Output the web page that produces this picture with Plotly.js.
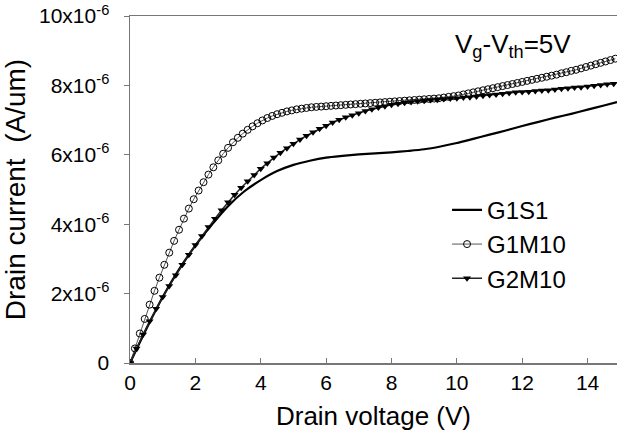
<!DOCTYPE html>
<html>
<head>
<meta charset="utf-8">
<script src="https://cdn.plot.ly/plotly-3.0.1.min.js"></script>
<style>html,body{margin:0;padding:0;background:#fff;}#chart{width:617px;height:438px;}</style>
</head>
<body>
<div id="chart"></div>
<script>
// Drain current in units of 1e-6 A/um
const seriesNames = ["G1S1", "G1M10", "G2M10"];

const xG1S1 = [0,0.5,1,1.5,2,2.5,3,3.5,4,4.5,5,5.5,6,6.5,7,7.5,8,8.5,9,9.5,10,10.5,11,11.5,12,12.5,13,13.5,14,14.5,14.9];
const yG1S1 = [0,0.98,1.9,2.7,3.38,3.98,4.52,4.95,5.27,5.53,5.71,5.83,5.92,5.97,6.01,6.04,6.07,6.11,6.16,6.24,6.34,6.46,6.58,6.7,6.83,6.95,7.07,7.18,7.3,7.42,7.52];

const xG1M10 = [0,0.15,0.3,0.45,0.6,0.75,0.9,1.05,1.2,1.35,1.5,1.65,1.8,1.95,2.1,2.25,2.4,2.55,2.7,2.85,
  3,3.15,3.3,3.45,3.6,3.75,3.9,4.05,4.2,4.35,4.5,4.65,4.8,4.95,5.1,5.25,5.4,5.55,5.7,5.85,
  6,6.15,6.3,6.45,6.6,6.75,6.9,7.05,7.2,7.35,7.5,7.65,7.8,7.95,8.1,8.25,8.4,8.55,8.7,8.85,
  9,9.15,9.3,9.45,9.6,9.75,9.9,10.05,10.2,10.35,10.5,10.65,10.8,10.95,11.1,11.25,11.4,11.55,11.7,11.85,
  12,12.15,12.3,12.45,12.6,12.75,12.9,13.05,13.2,13.35,13.5,13.65,13.8,13.95,14.1,14.25,14.4,14.55,14.7,14.85];
const yG1M10 = [0,0.42,0.85,1.27,1.68,2.08,2.46,2.83,3.18,3.52,3.84,4.16,4.45,4.72,4.97,5.21,5.43,5.64,5.84,6.03,
  6.2,6.36,6.49,6.61,6.72,6.82,6.91,6.99,7.06,7.12,7.17,7.21,7.25,7.28,7.31,7.33,7.35,7.37,7.38,7.39,
  7.4,7.41,7.42,7.43,7.44,7.45,7.46,7.47,7.48,7.49,7.5,7.51,7.52,7.53,7.54,7.55,7.56,7.57,7.58,7.59,
  7.6,7.61,7.62,7.63,7.65,7.67,7.69,7.71,7.74,7.77,7.8,7.83,7.86,7.89,7.92,7.95,7.98,8.01,8.04,8.07,
  8.1,8.13,8.16,8.19,8.22,8.25,8.28,8.31,8.35,8.38,8.42,8.45,8.49,8.53,8.57,8.61,8.65,8.69,8.73,8.77];

const xG2M10 = [0,0.2,0.4,0.6,0.8,1,1.2,1.4,1.6,1.8,2,2.2,2.4,2.6,2.8,3,3.2,3.4,3.6,3.8,
  4,4.2,4.4,4.6,4.8,5,5.2,5.4,5.6,5.8,6,6.2,6.4,6.6,6.8,7,7.2,7.4,7.6,7.8,
  8,8.2,8.4,8.6,8.8,9,9.2,9.4,9.6,9.8,10,10.2,10.4,10.6,10.8,11,11.2,11.4,11.6,11.8,
  12,12.2,12.4,12.6,12.8,13,13.2,13.4,13.6,13.8,14,14.2,14.4,14.6,14.8];
const yG2M10 = [0,0.42,0.82,1.2,1.56,1.9,2.22,2.53,2.83,3.12,3.4,3.66,3.92,4.16,4.4,4.63,4.85,5.05,5.24,5.42,
  5.6,5.76,5.92,6.06,6.19,6.32,6.44,6.55,6.65,6.75,6.84,6.93,7.01,7.08,7.14,7.2,7.26,7.31,7.36,7.4,
  7.44,7.47,7.5,7.52,7.54,7.56,7.58,7.59,7.61,7.62,7.63,7.65,7.66,7.68,7.7,7.72,7.74,7.76,7.78,7.8,
  7.81,7.82,7.84,7.85,7.86,7.88,7.9,7.92,7.94,7.95,7.97,7.99,8.01,8.03,8.05];

const xTickVals = [0,2,4,6,8,10,12,14];
const yTickVals = [0,2,4,6,8,10];
const yTickText = ["0","2x10<sup>-6</sup>","4x10<sup>-6</sup>","6x10<sup>-6</sup>","8x10<sup>-6</sup>","10x10<sup>-6</sup>"];

const font = "Arial, 'Liberation Sans', Helvetica, sans-serif";

const traces = [
  {x: xG1S1, y: yG1S1, name: seriesNames[0], type: "scatter", mode: "lines",
   line: {color: "#000", width: 2.2, shape: "spline", smoothing: 0.8}},
  {x: xG1M10, y: yG1M10, name: seriesNames[1], type: "scatter", mode: "lines+markers",
   line: {color: "#555", width: 1},
   marker: {symbol: "circle-open", size: 7, color: "#000", line: {width: 1, color: "#000"}}},
  {x: xG2M10, y: yG2M10, name: seriesNames[2], type: "scatter", mode: "lines+markers",
   line: {color: "#222", width: 1.5},
   marker: {symbol: "triangle-down", size: 7, color: "#000"}}
];

const layout = {
  width: 617, height: 438,
  margin: {l: 130, r: 0, t: 16, b: 75, pad: 0},
  paper_bgcolor: "#fff", plot_bgcolor: "#fff",
  font: {family: font, color: "#000", size: 21},
  showlegend: true,
  legend: {x: 0.651, y: 0.505, xanchor: "left", yanchor: "top",
           bgcolor: "rgba(0,0,0,0)", font: {family: font, size: 24, color: "#000"},
           tracegroupgap: 0},
  xaxis: {range: [0, 14.9], tickvals: xTickVals, ticks: "inside", ticklen: 5, tickwidth: 1,
          tickcolor: "#777", showline: true, linecolor: "#777", linewidth: 1.5, mirror: true,
          showgrid: false, zeroline: false, tickfont: {size: 21, family: font, color: "#000"},
          title: {text: "Drain voltage (V)", font: {size: 26, family: font, color: "#000"}, standoff: 14}},
  yaxis: {range: [0, 10], tickvals: yTickVals, ticktext: yTickText, ticks: "outside", ticklen: 5, tickwidth: 1,
          tickcolor: "#777", showline: true, linecolor: "#777", linewidth: 1.5, ticklabelstandoff: 10,
          showgrid: false, zeroline: false, tickfont: {size: 21, family: font, color: "#000"},
          title: {text: "Drain current  (A/um)", font: {size: 28, family: font, color: "#000"}, standoff: 8}},
  annotations: [{xref: "paper", yref: "paper", x: 0.663, y: 0.915, xanchor: "left", yanchor: "middle",
                 text: "V<sub>g</sub>-V<sub>th</sub>=5V", showarrow: false,
                 font: {size: 26, family: font, color: "#000"}}]
};

Plotly.newPlot("chart", traces, layout, {staticPlot: true, displayModeBar: false});
</script>
</body>
</html>
